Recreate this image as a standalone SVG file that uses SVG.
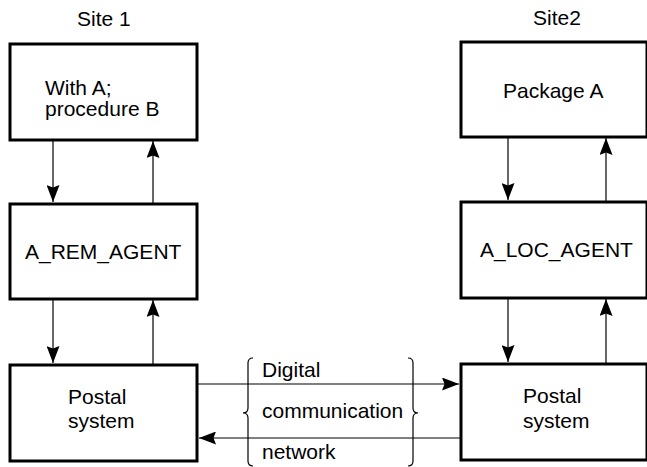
<svg xmlns="http://www.w3.org/2000/svg" width="647" height="467" viewBox="0 0 647 467">
  <style>
    .box { fill: #fff; stroke: #000; stroke-width: 3; }
    .lbl { font-family: "Liberation Sans", Arial, sans-serif; font-size: 21px; fill: #000; }
    .wire { stroke: #000; stroke-width: 1.2; fill: none; }
    .brace { stroke: #000; stroke-width: 1.2; fill: none; }
  </style>
  <defs>
    <marker id="arr" viewBox="0 0 17 13" refX="17" refY="6.5" markerWidth="17" markerHeight="13" markerUnits="userSpaceOnUse" orient="auto">
      <path d="M0,0 L17,6.5 L0,13 L2.5,6.5 Z" fill="#000"/>
    </marker>
  </defs>

  <rect width="647" height="467" fill="#fff"/>

  <text class="lbl" x="77" y="26">Site 1</text>
  <text class="lbl" x="533" y="25">Site2</text>

  <g id="site1-caller">
    <rect class="box" x="10" y="44" width="187" height="96"/>
    <text class="lbl" x="45" y="95">With A;</text>
    <text class="lbl" x="45" y="116">procedure B</text>
  </g>
  <g id="site1-agent">
    <rect class="box" x="10" y="204" width="187" height="95"/>
    <text class="lbl" x="25" y="259">A_REM_AGENT</text>
  </g>
  <g id="site1-postal">
    <rect class="box" x="10" y="365" width="187" height="96"/>
    <text class="lbl" x="68" y="404">Postal</text>
    <text class="lbl" x="68" y="428">system</text>
  </g>

  <g id="site2-package">
    <rect class="box" x="461" y="42" width="186" height="95"/>
    <text class="lbl" x="503" y="98">Package A</text>
  </g>
  <g id="site2-agent">
    <rect class="box" x="461" y="202" width="186" height="96"/>
    <text class="lbl" x="480" y="257">A_LOC_AGENT</text>
  </g>
  <g id="site2-postal">
    <rect class="box" x="461" y="364" width="186" height="96"/>
    <text class="lbl" x="523" y="403">Postal</text>
    <text class="lbl" x="523" y="428">system</text>
  </g>

  <g id="network">
    <path class="brace" d="M253,358 Q248,358 248,363 L248,408 Q248,413 243,413 Q248,413 248,418 L248,461 Q248,466 253,466"/>
    <path class="brace" d="M408,358 Q413,358 413,363 L413,408 Q413,413 418,413 Q413,413 413,418 L413,461 Q413,466 408,466"/>
    <text class="lbl" x="262" y="377">Digital</text>
    <text class="lbl" x="262" y="418">communication</text>
    <text class="lbl" x="262" y="459">network</text>
  </g>

  <g id="connectors">
    <line class="wire" x1="53" y1="141" x2="53" y2="202" marker-end="url(#arr)"/>
    <line class="wire" x1="153" y1="203" x2="153" y2="141" marker-end="url(#arr)"/>
    <line class="wire" x1="53" y1="300" x2="53" y2="363" marker-end="url(#arr)"/>
    <line class="wire" x1="153" y1="364" x2="153" y2="300" marker-end="url(#arr)"/>

    <line class="wire" x1="508" y1="138" x2="508" y2="200" marker-end="url(#arr)"/>
    <line class="wire" x1="606" y1="201" x2="606" y2="138" marker-end="url(#arr)"/>
    <line class="wire" x1="508" y1="299" x2="508" y2="362" marker-end="url(#arr)"/>
    <line class="wire" x1="606" y1="363" x2="606" y2="299" marker-end="url(#arr)"/>

    <line class="wire" x1="198" y1="384" x2="459" y2="384" marker-end="url(#arr)"/>
    <line class="wire" x1="460" y1="438" x2="199" y2="438" marker-end="url(#arr)"/>
  </g>
</svg>
